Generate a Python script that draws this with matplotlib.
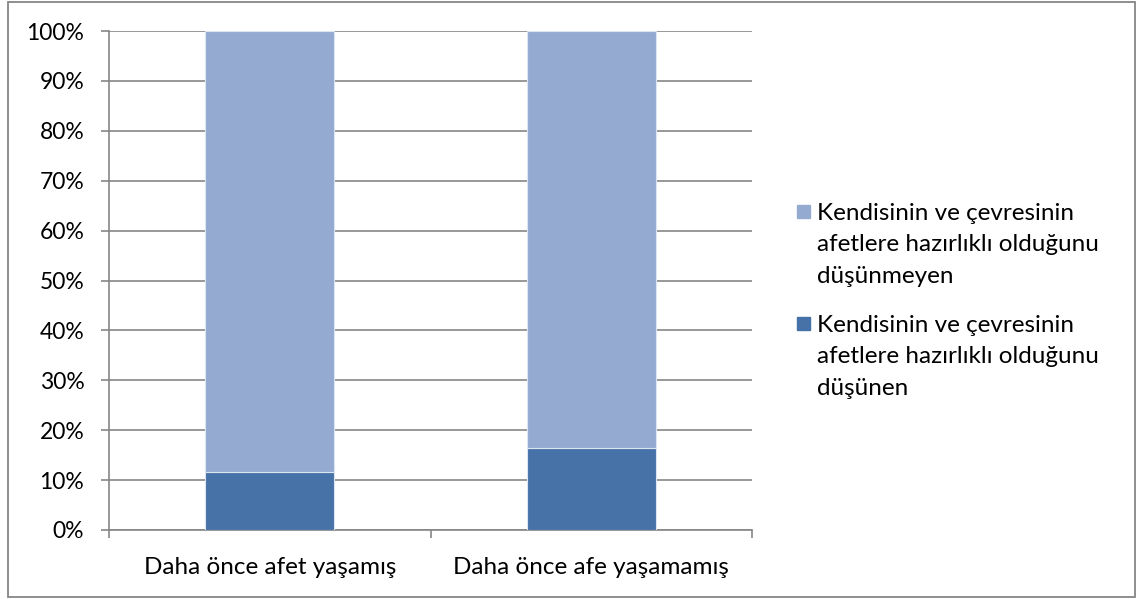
import matplotlib
matplotlib.use("Agg")
from matplotlib import pyplot as plt
from matplotlib.patches import Rectangle
from matplotlib.ticker import PercentFormatter

kategoriler = ["Daha önce afet yaşamış", "Daha önce afe yaşamamış"]
dusunen = [11.7, 16.4]
dusunmeyen = [88.3, 83.6]
etiket_dusunmeyen = "Kendisinin ve çevresinin\nafetlere hazırlıklı olduğunu\ndüşünmeyen"
etiket_dusunen = "Kendisinin ve çevresinin\nafetlere hazırlıklı olduğunu\ndüşünen"

plt.rcParams["font.family"] = ["Lato", "DejaVu Sans"]

W, H = 1144, 599
fig = plt.figure(figsize=(W / 100, H / 100), dpi=100)
ax = fig.add_axes([109 / W, 69 / H, 643 / W, 499 / H])

koyu = "#4672A8"
acik = "#94AAD1"
xs = list(range(len(kategoriler)))
ax.bar(xs, dusunen, width=0.4, color=koyu, edgecolor="#DCE6F2", linewidth=0.8, zorder=3)
ax.bar(xs, dusunmeyen, bottom=dusunen, width=0.4, color=acik, edgecolor="#DCE6F2", linewidth=0.8, zorder=3)

ax.set_xlim(-0.5, 1.5)
ax.set_ylim(0, 100)
ax.set_yticks(range(0, 101, 10))
ax.yaxis.set_major_formatter(PercentFormatter(decimals=0))
ax.grid(axis="y", color="#868686", linewidth=1.2, zorder=0)
ax.set_xticks(xs)
ax.set_xticklabels(kategoriler)
ax.set_xticks([-0.5, 0.5, 1.5], minor=True)
ax.tick_params(axis="x", which="major", length=0, pad=19.5, labelsize=17.5)
ax.tick_params(axis="x", which="minor", length=5.8, width=1.2, color="#868686")
ax.tick_params(axis="y", length=5.8, width=1.2, color="#868686", labelsize=16.5, pad=12)

for s in ["top", "right"]:
    ax.spines[s].set_visible(False)
for s in ["left", "bottom"]:
    ax.spines[s].set_color("#868686")
    ax.spines[s].set_linewidth(1.2)

# lejant: kare ilk satırın hizasında, metin son satırın tabanına göre
lejant = [(etiket_dusunmeyen, acik, 205, 283), (etiket_dusunen, koyu, 317, 395)]
for metin, renk, kare_ust, taban in lejant:
    fig.patches.append(Rectangle((797 / W, (H - kare_ust - 13) / H), 13 / W, 13 / H,
                                 transform=fig.transFigure, color=renk))
    fig.text(817 / W, (H - taban) / H, metin, fontsize=17.5, va="baseline", ha="left",
             linespacing=1.62)

fig.patches.append(Rectangle((7.5 / W, 2 / H), 1127 / W, 595 / H, transform=fig.transFigure,
                             fill=False, edgecolor="#868686", linewidth=1.3))

fig.savefig("out.png", dpi=100)
